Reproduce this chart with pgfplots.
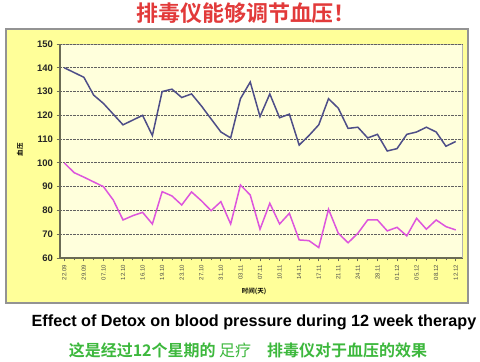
\documentclass[border=0pt]{standalone}
\usepackage{fontspec}
\setmainfont{Liberation Sans}
\newfontfamily\cjk{Noto Sans CJK SC}[BoldFont={Noto Sans CJK SC Bold}]
\usepackage{pgfplots}
\usepackage{pgfplotstable}
\pgfplotsset{compat=1.18}
\definecolor{outer}{HTML}{FFFF99}
\definecolor{inner}{HTML}{FFFFDC}
\definecolor{upper}{HTML}{4E4E88}
\definecolor{lower}{HTML}{DD55DD}
\definecolor{titlered}{HTML}{E23A3A}
\definecolor{cngreen}{HTML}{3DB83D}
\definecolor{axisc}{HTML}{6B6B55}
\pgfplotstableread{
i hi lo
0 140 100
1 138 95.9
2 136 94
3 128.5 92
4 125 90
5 120.5 84.4
6 116 76
7 118 77.8
8 120 79.2
9 111.5 74.3
10 130 87.9
11 131 86.1
12 127.5 82.3
13 129 87.8
14 124 84.1
15 118.5 79.9
16 113 83.7
17 110.5 74.3
18 127 90.7
19 134 86.5
20 119.5 72.1
21 129 83
22 119 74.3
23 120.5 78.8
24 107.5 67.6
25 111.5 67.3
26 116 64.4
27 127 80.5
28 123 70.4
29 114.5 66.4
30 115 70.4
31 110.5 76
32 112 76
33 105 71.4
34 106 72.9
35 112 69.3
36 113 76.7
37 115 72.1
38 113 76
39 107 73.2
40 109 71.8
}\bp
\begin{document}
\begin{tikzpicture}[x=1pt,y=1pt]
\path[use as bounding box] (0,0) rectangle (480,362);
\fill[white] (0,0) rectangle (480,362);
\draw[fill=outer, draw=gray!85, line width=1.2pt] (6,59) rectangle (468,333);
\begin{axis}[
  at={(60pt,104pt)}, anchor=south west,
  scale only axis, width=402pt, height=214pt,
  xmin=-0.44, xmax=40.64, ymin=60, ymax=150,
  axis background/.style={fill=inner, draw=gray!60},
  axis x line*=bottom, axis y line*=left,
  axis line style={axisc, line width=1.2pt},
  xtick={0,2,...,40},
  xticklabels={22.09,29.09,07.10,12.10,16.10,19.10,23.10,27.10,31.10,03.11,07.11,10.11,14.11,17.11,21.11,24.11,28.11,01.12,05.12,08.12,12.12},
  minor xtick={1,3,...,39},
  ytick={60,70,...,150},
  tick align=outside,
  major tick length=3.5pt, minor tick length=2.5pt,
  tick style={axisc, line width=0.8pt},
  x tick label style={rotate=90, anchor=east, font=\fontsize{6}{6}\selectfont, text=gray!60!black},
  y tick label style={font=\bfseries\fontsize{9.5}{10}\selectfont, text=black!85},
  /pgf/number format/assume math mode=true,
  ymajorgrids,
  grid style={densely dotted, gray!75!black, line width=0.8pt},
  clip=false,
]
\addplot[upper, line width=1.5pt, mark=none] table[x=i, y=hi] {\bp};
\addplot[lower, line width=1.5pt, mark=none] table[x=i, y=lo] {\bp};
\end{axis}
\node[text=titlered] at (246,349) {\cjk\bfseries\fontsize{22}{24}\selectfont 排毒仪能够调节血压！};
\node[rotate=90] at (20,212) {\cjk\bfseries\fontsize{6.5}{7}\selectfont 血压};
\node at (254,71) {\cjk\bfseries\fontsize{6.5}{7}\selectfont 时间(天)};
\node at (254,40) {\bfseries\fontsize{16.2}{18}\selectfont Effect of Detox on blood pressure during 12 week therapy};
\node[text=cngreen] at (248,12) {\cjk\fontsize{16}{18}\selectfont {\bfseries 这是经过12个星期的} 足疗\quad{\bfseries 排毒仪对于血压的效果}};
\end{tikzpicture}
\end{document}
